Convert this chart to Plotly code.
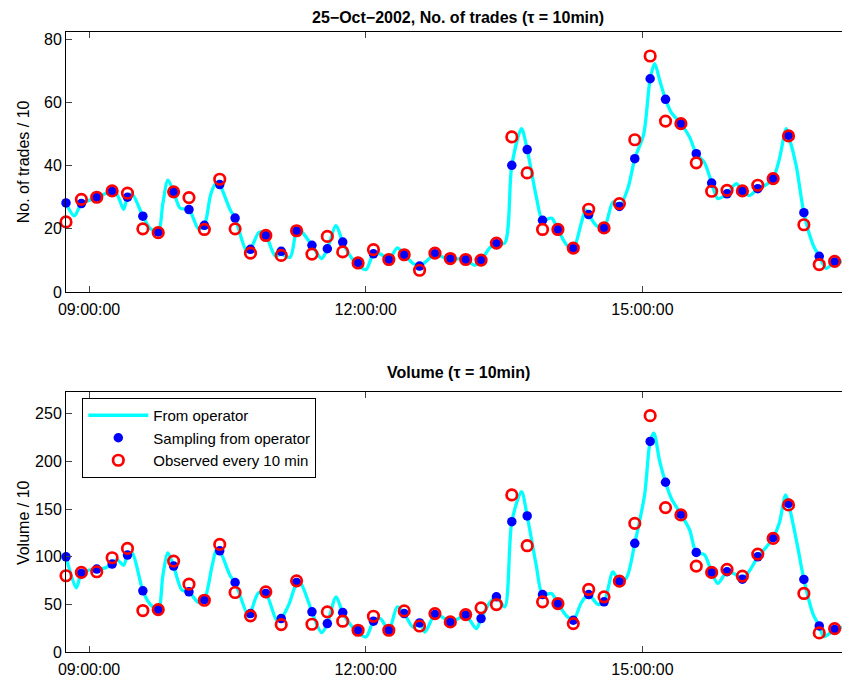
import pandas as pd
import plotly.graph_objects as go

# ---------------- data ----------------
day = "2002-10-25"
start_time = "08:45"          # first 10-min sample
n_samples = 52                # 08:45 ... 17:15

# No. of trades / 10
trades_sampled = [28.2, 28.0, 29.9, 31.9, 30.0, 24.0, 19.0, 31.7, 26.1, 21.1,
                  34.0, 23.4, 13.5, 17.9, 12.9, 19.3, 14.8, 13.7, 15.8, 9.3,
                  12.1, 10.3, 11.8, 8.2, 12.1, 10.6, 10.3, 10.0, 15.3, 40.1,
                  45.1, 22.7, 19.8, 13.9, 24.5, 20.3, 27.1, 42.2, 67.5, 61.0,
                  53.3, 43.8, 34.5, 31.1, 32.0, 32.7, 35.9, 49.6, 25.1, 11.3,
                  9.5, 8.7]
trades_observed = [22.2, 29.3, 30.0, 32.0, 31.3, 20.0, 18.8, 31.7, 29.9, 19.8,
                   35.7, 20.0, 12.3, 17.9, 11.6, 19.4, 12.0, 17.6, 12.7, 9.2,
                   13.4, 10.3, 11.8, 6.9, 12.3, 10.6, 10.3, 10.1, 15.5, 49.1,
                   37.7, 19.8, 19.8, 13.9, 26.2, 20.3, 28.0, 48.2, 74.7, 54.1,
                   53.3, 40.9, 31.9, 32.2, 32.0, 33.8, 35.9, 49.4, 21.3, 8.7,
                   9.7, 7.9]
# operator curve: minutes after 08:45 and value
trades_curve_min = [0, 5.4, 10, 15, 20, 25, 30, 33.6, 37.5, 40, 43, 50, 55, 60, 63,
                    66.3, 70, 74.3, 80, 86.2, 90, 94.2, 98, 100, 106.8, 110, 117.6,
                    120, 125.8, 130, 136, 140, 145.8, 150, 152.3, 160, 166.3, 170,
                    175.7, 180, 187, 195.1, 200, 204.7, 210, 215.5, 220, 225.9, 230,
                    235, 240, 245.4, 250, 255, 260, 265.9, 270, 275.7, 280, 285.4,
                    290, 296.3, 300, 306, 310, 315.8, 320, 325.5, 330, 335.3, 338,
                    340, 345, 350, 355.8, 360, 365.6, 370, 375.8, 380, 383, 386.2,
                    390, 393.8, 400, 405.7, 410, 415.3, 420, 424, 430, 436, 440,
                    444.6, 450, 455.5, 460, 464, 468.5, 470, 475, 480, 485.9, 490,
                    494.5, 500, 505.3, 510]
trades_curve = [28.2, 24.1, 28.0, 29.0, 30.0, 31.0, 32.0, 30.5, 26.2, 30.0, 31.0,
                24.0, 20.0, 19.0, 28.0, 35.4, 31.7, 26.5, 26.1, 20.0, 21.1, 31.0,
                34.8, 34.0, 26.0, 23.4, 12.8, 13.5, 19.0, 17.9, 11.5, 12.0, 11.0,
                19.3, 19.5, 14.8, 10.6, 13.7, 21.0, 15.8, 10.0, 7.1, 12.1, 12.0,
                10.3, 14.0, 11.8, 9.0, 8.2, 10.0, 12.1, 11.0, 10.6, 10.5, 10.3,
                8.5, 10.0, 14.0, 15.3, 15.5, 40.1, 51.7, 45.1, 30.0, 22.7, 23.4,
                19.8, 15.0, 13.9, 22.0, 26.0, 24.5, 21.0, 20.3, 28.5, 27.1, 33.0,
                42.2, 50.0, 67.5, 72.3, 67.0, 61.0, 56.8, 53.3, 49.0, 43.8, 41.0,
                34.5, 29.6, 31.1, 34.3, 32.0, 30.5, 32.7, 34.0, 35.9, 42.0, 51.7,
                49.6, 40.0, 25.1, 15.0, 11.3, 7.5, 9.5, 9.5, 8.7]

# Volume / 10
volume_sampled = [99.9, 82.4, 87.0, 92.2, 101.7, 64.2, 44.5, 90.1, 63.1, 55.0,
                  106.2, 72.9, 40.3, 61.4, 35.1, 72.9, 42.1, 29.8, 41.4, 22.8,
                  32.3, 22.8, 40.3, 30.5, 39.3, 31.6, 38.6, 35.1, 57.9, 136.7,
                  142.7, 60.3, 50.8, 33.3, 60.3, 52.6, 73.6, 114.0, 220.9, 178.1,
                  144.5, 104.5, 83.5, 84.2, 76.4, 99.9, 119.9, 156.0, 76.1, 27.3,
                  23.5, 25.2]
volume_observed = [80.0, 83.5, 84.2, 98.9, 108.7, 43.5, 44.5, 95.4, 71.2, 54.3,
                   112.9, 62.4, 37.9, 63.1, 28.8, 74.7, 29.1, 42.1, 32.3, 22.8,
                   37.5, 22.8, 43.1, 27.3, 40.3, 31.6, 39.3, 46.3, 49.8, 164.8,
                   111.5, 52.6, 50.8, 29.8, 65.6, 57.9, 74.3, 135.0, 247.9, 151.5,
                   143.8, 90.1, 83.5, 86.6, 79.6, 102.7, 119.2, 154.3, 61.4, 20.0,
                   24.5, 25.2]
volume_curve_min = [0, 6.7, 10, 15, 20, 25, 30, 33, 37.5, 40, 43, 50, 54.8, 60, 63,
                    66.3, 70, 75.4, 80, 86.2, 90, 95, 98, 100, 106.8, 110, 118.7,
                    120, 125.2, 130, 137.1, 140, 145, 150, 152.3, 158.7, 160, 166.3,
                    170, 175.7, 180, 187, 195.1, 200, 204.5, 210, 215.5, 220, 225.9,
                    230, 233.5, 240, 245.4, 250, 255, 260, 266.9, 270, 275.7, 280,
                    285.4, 290, 296.3, 300, 306, 310, 315.8, 320, 325.5, 330, 335.3,
                    340, 346, 350, 355.8, 360, 364.6, 370, 376.4, 380, 382.4, 386.2,
                    390, 393.8, 400, 405.7, 410, 415.3, 420, 424, 430, 434.9, 440,
                    445.7, 450, 455.5, 460, 464, 468.1, 470, 476, 480, 485.9, 490,
                    493, 500, 505.3, 510]
volume_curve = [99.9, 67.3, 82.4, 86.0, 87.0, 88.0, 92.2, 97.0, 91.0, 101.7, 104.0,
                64.2, 50.0, 44.5, 80.0, 104.0, 90.1, 65.0, 63.1, 52.0, 55.0, 90.0,
                108.0, 106.2, 80.0, 72.9, 37.0, 40.3, 62.0, 61.4, 33.3, 35.1, 50.0,
                71.9, 73.0, 48.0, 42.1, 20.3, 29.8, 57.9, 41.4, 25.0, 15.8, 32.3,
                35.0, 22.8, 47.3, 40.3, 26.0, 30.5, 21.0, 39.3, 36.0, 31.6, 35.0,
                38.6, 24.5, 35.1, 52.0, 57.9, 47.3, 136.7, 168.3, 142.7, 90.0, 60.3,
                61.4, 50.8, 38.0, 33.3, 52.0, 60.3, 50.0, 52.6, 84.0, 73.6, 78.0,
                114.0, 165.0, 220.9, 229.7, 200.0, 178.1, 161.0, 144.5, 128.0, 104.5,
                102.0, 83.5, 71.9, 84.2, 82.0, 76.4, 88.0, 99.9, 110.0, 119.9, 135.0,
                164.8, 156.0, 110.0, 76.1, 40.0, 27.3, 16.0, 23.5, 26.0, 25.2]

x_tick_labels = ["09:00:00", "12:00:00", "15:00:00"]
trades_ticks = [0, 20, 40, 60, 80]
volume_ticks = [0, 50, 100, 150, 200, 250]

# ---------------- build ----------------
t0 = pd.Timestamp(f"{day} {start_time}")
sample_t = pd.date_range(t0, periods=n_samples, freq="10min")
trades_t = t0 + pd.to_timedelta(trades_curve_min, unit="min")
volume_t = t0 + pd.to_timedelta(volume_curve_min, unit="min")
x_range = [sample_t[0], sample_t[-1]]
tickvals = [pd.Timestamp(f"{day} {s}") for s in x_tick_labels]

CYAN, BLUE, RED = "#00FFFF", "#0000FF", "#FF0000"
FONT = "Liberation Sans, Arial, Helvetica, sans-serif"

fig = go.Figure()

def add_set(t_curve, curve, sampled, observed, xa, ya, show):
    fig.add_trace(go.Scatter(x=t_curve, y=curve, mode="lines", name="From operator",
                             line=dict(color=CYAN, width=3.3, shape="spline", smoothing=0.8),
                             xaxis=xa, yaxis=ya, showlegend=show, cliponaxis=False))
    fig.add_trace(go.Scatter(x=sample_t, y=sampled, mode="markers",
                             name="Sampling from operator",
                             marker=dict(color=BLUE, size=9.5, symbol="circle"),
                             xaxis=xa, yaxis=ya, showlegend=show, cliponaxis=False))
    fig.add_trace(go.Scatter(x=sample_t, y=observed, mode="markers",
                             name="Observed every 10 min",
                             marker=dict(color=RED, size=10.5, symbol="circle-open",
                                         line=dict(color=RED, width=2.7)),
                             xaxis=xa, yaxis=ya, showlegend=show, cliponaxis=False))

add_set(trades_t, trades_curve, trades_sampled, trades_observed, "x", "y", False)
add_set(volume_t, volume_curve, volume_sampled, volume_observed, "x2", "y2", True)

axis_common = dict(showline=True, linecolor="black", linewidth=1, mirror="ticks",
                   ticks="inside", ticklen=6, tickcolor="#444", showgrid=False,
                   zeroline=False, tickfont=dict(family=FONT, size=16, color="black"))

H_TOP = 0.5806
H_BOT = 0.4194
# the page body adds an 8 px offset, so the figure is 8 px smaller on each side
fig.update_layout(
    width=842, height=673,
    margin=dict(l=58, r=0, t=24, b=29),
    paper_bgcolor="white", plot_bgcolor="white",
    font=dict(family=FONT, size=16, color="black"),
    xaxis=dict(domain=[0, 1], anchor="y", type="date", range=x_range,
               tickvals=tickvals, ticktext=x_tick_labels, ticklabelstandoff=3,
               **axis_common),
    yaxis=dict(domain=[H_TOP, 1], anchor="x", range=[0, 82.3],
               tickvals=trades_ticks, **axis_common),
    xaxis2=dict(domain=[0, 1], anchor="y2", type="date", range=x_range,
                tickvals=tickvals, ticktext=x_tick_labels, ticklabelstandoff=3,
                **axis_common),
    yaxis2=dict(domain=[0, H_BOT], anchor="x2", range=[0, 272.8],
                tickvals=volume_ticks, **axis_common),
    legend=dict(x=0.0208, y=0.4097, xanchor="left", yanchor="top",
                bgcolor="white", bordercolor="black", borderwidth=1,
                font=dict(family=FONT, size=15, color="black"),
                itemwidth=60, tracegroupgap=0),
    annotations=[
        dict(text="<b>25−Oct−2002, No. of trades (τ = 10min)</b>", xref="paper", yref="paper",
             x=0.5, y=1.0387, xanchor="center", yanchor="top", showarrow=False,
             borderpad=0, font=dict(family=FONT, size=16, color="black")),
        dict(text="<b>Volume (τ = 10min)</b>", xref="paper", yref="paper",
             x=0.5, y=0.4505, xanchor="center", yanchor="middle", showarrow=False,
             font=dict(family=FONT, size=16, color="black")),
        dict(text="No. of trades / 10", xref="paper", yref="paper", textangle=-90,
             x=-0.0548, y=0.790, xanchor="center", yanchor="middle", showarrow=False,
             font=dict(family=FONT, size=16, color="black")),
        dict(text="Volume / 10", xref="paper", yref="paper", textangle=-90,
             x=-0.0548, y=0.208, xanchor="center", yanchor="middle", showarrow=False,
             font=dict(family=FONT, size=16, color="black")),
    ],
)

fig.write_html("out.html")
